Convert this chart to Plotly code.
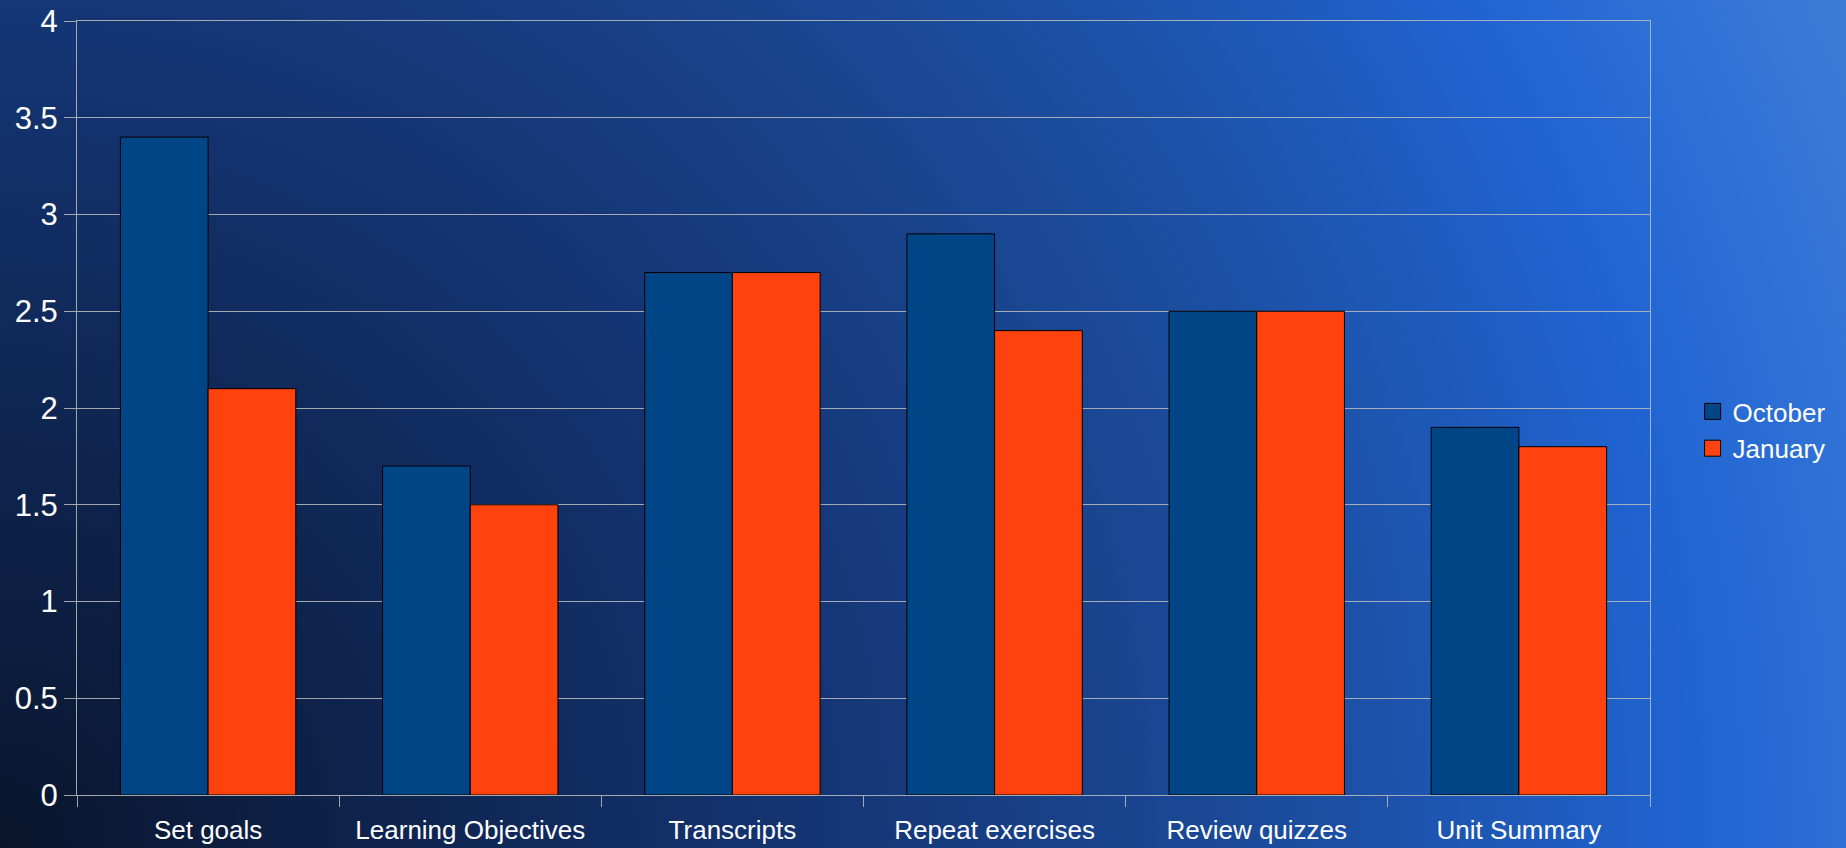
import base64
import plotly.graph_objects as go

categories = ["Set goals", "Learning Objectives", "Transcripts", "Repeat exercises", "Review quizzes", "Unit Summary"]
october = [3.4, 1.7, 2.7, 2.9, 2.5, 1.9]
january = [2.1, 1.5, 2.7, 2.4, 2.5, 1.8]
y_ticks = [0, 0.5, 1, 1.5, 2, 2.5, 3, 3.5, 4]
y_tick_labels = ["0", "0.5", "1", "1.5", "2", "2.5", "3", "3.5", "4"]

W, H = 1846, 848
ML, MR, MT, MB = 77, 196, 21, 53
PW, PH = W - ML - MR, H - MT - MB

svg = f'''<svg xmlns="http://www.w3.org/2000/svg" width="{W}" height="{H}" viewBox="0 0 {W} {H}" preserveAspectRatio="none">
<defs><radialGradient id="g" gradientUnits="userSpaceOnUse" cx="0" cy="{H}" r="2000">
<stop offset="0" stop-color="#09152c"/>
<stop offset="0.4" stop-color="#143472"/>
<stop offset="0.65" stop-color="#1c4d9e"/>
<stop offset="0.85" stop-color="#2064d2"/>
<stop offset="1" stop-color="#3a7bd8"/>
</radialGradient></defs>
<rect x="0" y="0" width="{W}" height="{H}" fill="url(#g)"/>
</svg>'''
bg_uri = "data:image/svg+xml;base64," + base64.b64encode(svg.encode()).decode()

FONT = "Liberation Sans, Arial, sans-serif"
GRID = "rgba(190,190,190,0.85)"

fig = go.Figure()
fig.add_trace(go.Bar(x=categories, y=october, name="October", marker=dict(color="#004586", line=dict(color="#000000", width=1)), showlegend=False))
fig.add_trace(go.Bar(x=categories, y=january, name="January", marker=dict(color="#ff420e", line=dict(color="#000000", width=1)), showlegend=False))
# legend entries
fig.add_trace(go.Scatter(x=[None], y=[None], mode="markers", name="October",
                         marker=dict(symbol="square", size=24, color="#004586", line=dict(color="#000000", width=1))))
fig.add_trace(go.Scatter(x=[None], y=[None], mode="markers", name="January",
                         marker=dict(symbol="square", size=24, color="#ff420e", line=dict(color="#000000", width=1))))

fig.update_layout(
    width=W, height=H,
    margin=dict(l=ML, r=MR, t=MT, b=MB, pad=0),
    paper_bgcolor="#123068",
    plot_bgcolor="rgba(0,0,0,0)",
    barmode="group", bargap=0.331, bargroupgap=0,
    font=dict(family=FONT, color="#ffffff"),
    images=[dict(source=bg_uri, xref="paper", yref="paper",
                 x=-ML / PW, y=1 + MT / PH, sizex=W / PW, sizey=H / PH,
                 xanchor="left", yanchor="top", sizing="stretch", layer="below")],
    legend=dict(x=(1692.6 - ML) / PW, y=0.4716, xanchor="left", yanchor="middle",
                font=dict(size=26, color="#ffffff", family=FONT),
                bgcolor="rgba(0,0,0,0)", itemsizing="trace", tracegroupgap=0),
    xaxis=dict(type="category", tickson="boundaries", ticks="outside", ticklen=11, tickcolor=GRID,
               showline=True, linecolor=GRID, linewidth=1, mirror=True, showgrid=False,
               automargin=False, ticklabelstandoff=12,
               tickfont=dict(size=26, color="#ffffff", family=FONT)),
    yaxis=dict(range=[0, 4], tickvals=y_ticks, ticktext=y_tick_labels, ticks="outside", ticklen=12,
               tickcolor=GRID, showline=True, linecolor=GRID, linewidth=1, mirror=True,
               showgrid=True, gridcolor=GRID, gridwidth=1, zeroline=False, automargin=False,
               tickfont=dict(size=31, color="#ffffff", family=FONT)),
)

fig.write_html("out.html")
